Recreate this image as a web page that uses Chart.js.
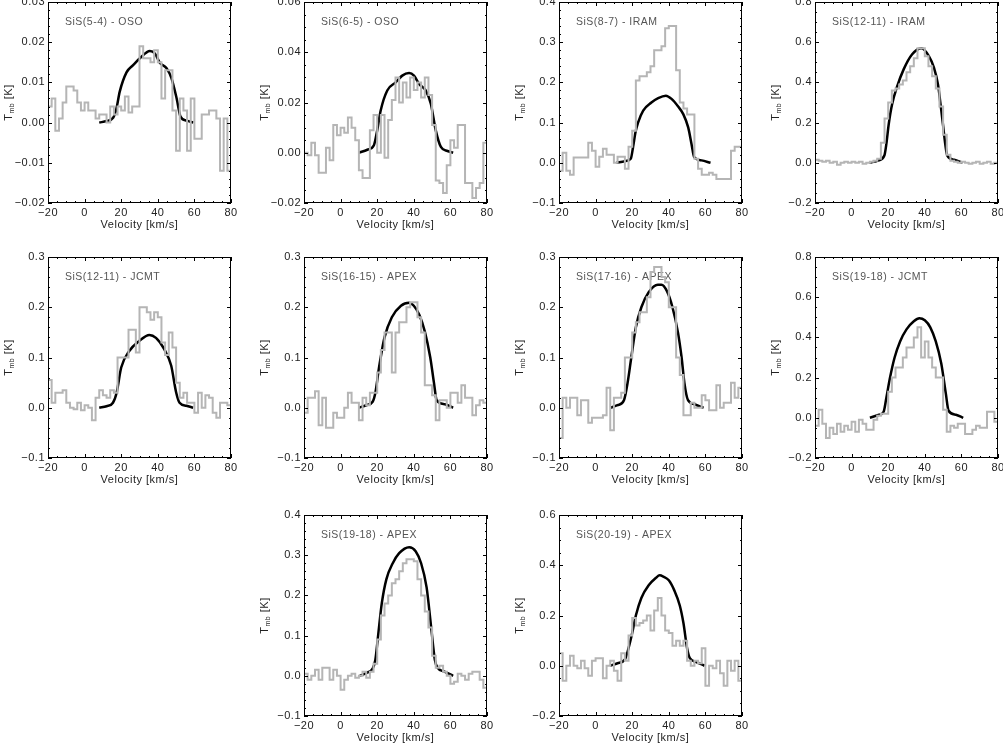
<!DOCTYPE html>
<html>
<head>
<meta charset="utf-8">
<script src="https://cdn.jsdelivr.net/npm/chart.js@4.4.1/dist/chart.umd.min.js"></script>
<style>
  body { margin: 0; background: #fff; width: 1003px; height: 746px; overflow: hidden; position: relative; }
  canvas { position: absolute; }
</style>
</head>
<body>
<script>
// channel centres (km/s), shared by all observed spectra
const velocity = [-19, -17, -15, -13, -11, -9, -7, -5, -3, -1, 1, 3, 5, 7, 9, 11, 13, 15, 17, 19,
  21, 23, 25, 27, 29, 31, 33, 35, 37, 39, 41, 43, 45, 47, 49, 51, 53, 55, 57, 59,
  61, 63, 65, 67, 69, 71, 73, 75, 77, 79];

// observed Tmb (K)
const obs54 = [0.004, 0.006, -0.002, 0.001, 0.005, 0.009, 0.009, 0.008, 0.005, 0.003, 0.005, 0.003, 0.003, 0.001, 0.002, 0.002, 0.0, 0.004, 0.002, 0.004,
  0.003, 0.0065, 0.0025, 0.004, 0.004, 0.019, 0.016, 0.016, 0.015, 0.018, 0.015, 0.006, 0.013, 0.013, 0.003, -0.007, 0.006, 0.003, -0.007, 0.006,
  -0.004, -0.004, 0.002, 0.002, 0.003, 0.003, 0.001, -0.012, 0.001, -0.012];
const obs65 = [0.0, -0.001, 0.004, -0.001, -0.008, -0.008, 0.002, -0.003, 0.011, 0.007, 0.010, 0.008, 0.014, 0.010, 0.005, -0.007, -0.010, -0.010, 0.009, 0.015,
  0.0, 0.015, -0.002, 0.013, 0.021, 0.030, 0.020, 0.028, 0.022, 0.030, 0.025, 0.028, 0.022, 0.030, 0.023, 0.011, -0.011, -0.012, -0.016, -0.005,
  0.005, 0.002, 0.011, 0.011, -0.012, -0.012, -0.018, -0.014, -0.012, 0.004];
const obs87 = [-0.02, 0.025, -0.02, -0.03, 0.013, 0.013, 0.013, 0.013, 0.05, 0.03, -0.01, 0.015, 0.035, 0.02, 0.02, 0.0, 0.015, 0.015, -0.015, 0.04,
  0.08, 0.205, 0.215, 0.215, 0.225, 0.24, 0.28, 0.28, 0.29, 0.335, 0.34, 0.34, 0.23, 0.15, 0.135, 0.12, 0.12, 0.01, -0.015, -0.03,
  -0.03, -0.025, -0.03, -0.04, -0.04, -0.04, -0.04, 0.03, 0.04, 0.04];
const obs1211iram = [0.015, 0.01, 0.005, 0.01, 0.0, 0.005, -0.01, 0.0, 0.005, 0.0, 0.005, 0.0, 0.005, -0.005, 0.0, 0.005, 0.01, 0.02, 0.1, 0.22,
  0.3, 0.36, 0.37, 0.39, 0.41, 0.45, 0.48, 0.52, 0.57, 0.57, 0.53, 0.48, 0.43, 0.37, 0.28, 0.14, 0.04, 0.01, 0.005, 0.0,
  0.005, 0.0, -0.005, 0.0, 0.005, -0.005, 0.0, 0.005, -0.005, 0.0];
const obs1211jcmt = [0.055, 0.01, 0.03, 0.03, 0.035, 0.01, 0.0, -0.003, 0.01, -0.005, 0.005, 0.0, -0.025, 0.02, 0.035, 0.025, 0.02, 0.035, 0.03, 0.1,
  0.1, 0.1, 0.155, 0.155, 0.11, 0.2, 0.2, 0.19, 0.175, 0.19, 0.18, 0.13, 0.105, 0.15, 0.12, 0.05, 0.02, 0.03, 0.01, 0.01,
  -0.01, 0.03, 0.0, 0.025, 0.02, -0.01, -0.02, 0.01, 0.01, 0.005];
const obs1615 = [-0.01, 0.02, 0.02, 0.033, -0.035, 0.02, -0.04, -0.04, -0.01, -0.02, -0.02, 0.0, 0.03, 0.01, 0.01, -0.025, 0.02, 0.005, 0.03, 0.03,
  0.07, 0.115, 0.15, 0.15, 0.07, 0.15, 0.17, 0.17, 0.2, 0.21, 0.21, 0.18, 0.15, 0.045, 0.045, 0.025, -0.025, 0.015, 0.015, 0.0,
  0.03, 0.03, 0.01, 0.045, 0.02, 0.02, -0.015, 0.005, 0.015, 0.01];
const obs1716 = [-0.06, 0.02, 0.0, 0.02, 0.02, -0.015, 0.015, 0.015, -0.03, -0.02, -0.02, -0.02, -0.015, 0.04, -0.045, 0.02, 0.02, 0.03, 0.1, 0.1,
  0.15, 0.17, 0.19, 0.19, 0.22, 0.27, 0.28, 0.28, 0.26, 0.25, 0.2, 0.2, 0.1, 0.065, -0.015, -0.015, 0.01, 0.0, 0.0, 0.025,
  0.015, -0.005, -0.005, 0.045, 0.0, 0.01, 0.01, 0.05, 0.02, 0.04];
const obs1918jcmt = [-0.04, 0.04, -0.03, -0.1, -0.05, -0.08, -0.03, -0.07, -0.04, -0.06, -0.02, -0.07, -0.01, -0.03, -0.06, -0.06, -0.01, 0.01, 0.02, 0.02,
  0.13, 0.2, 0.25, 0.25, 0.3, 0.35, 0.35, 0.4, 0.45, 0.3, 0.38, 0.3, 0.25, 0.2, 0.2, 0.04, -0.07, -0.04, -0.05, -0.03,
  -0.03, -0.08, -0.08, -0.06, -0.04, -0.05, -0.05, 0.03, 0.03, -0.02];
const obs1918apex = [0.005, -0.01, 0.0, 0.015, -0.01, 0.02, 0.02, -0.01, 0.015, 0.0, -0.035, -0.01, 0.0, 0.005, -0.005, 0.0, 0.01, -0.005, 0.01, 0.03,
  0.09, 0.15, 0.18, 0.2, 0.23, 0.24, 0.26, 0.28, 0.29, 0.29, 0.285, 0.24, 0.2, 0.16, 0.12, 0.05, 0.02, 0.025, 0.01, 0.0,
  -0.02, -0.015, 0.005, 0.0, -0.01, 0.005, 0.01, 0.01, -0.01, -0.03];
const obs2019 = [0.05, -0.06, 0.0, 0.04, 0.0, -0.01, 0.02, -0.01, -0.04, 0.02, 0.03, 0.03, -0.05, 0.0, 0.02, -0.02, -0.06, 0.05, 0.02, 0.12,
  0.19, 0.16, 0.17, 0.18, 0.2, 0.14, 0.22, 0.27, 0.2, 0.14, 0.13, 0.08, 0.1, 0.08, 0.1, 0.02, 0.0, 0.02, 0.01, 0.07,
  -0.08, 0.0, -0.01, 0.02, -0.03, -0.08, 0.02, -0.02, 0.02, -0.06];

// model line profiles: velocity (km/s) and Tmb (K)
const model54V = [8, 12, 15.6, 17.4, 19.2, 22.9, 26.5, 30.2, 35.7, 38.4, 41.1, 44.8, 47.5, 50.3, 52.4, 55.7, 59.4];
const model54T = [0, 0.0004, 0.0012, 0.0035, 0.0077, 0.0125, 0.0143, 0.016, 0.0178, 0.0172, 0.0149, 0.0135, 0.011, 0.006, 0.0015, 0.0005, 0];
const model65V = [10, 14.6, 18.2, 20, 21.9, 25.5, 30.1, 33.7, 37.4, 40.1, 42.9, 46.5, 49.3, 52, 54.8, 58.4, 61.5];
const model65T = [0, 0.0012, 0.003, 0.0089, 0.0168, 0.0248, 0.028, 0.0307, 0.0317, 0.0307, 0.0274, 0.0248, 0.0195, 0.0089, 0.0023, 0.0007, 0];
const model87V = [11.4, 16, 19.2, 20.5, 21.8, 23.2, 26, 30.5, 34.2, 38.4, 41.5, 45.1, 47.9, 50.6, 52.4, 53.9, 57.9, 62.8];
const model87T = [0, 0.004, 0.01, 0.04, 0.076, 0.1, 0.13, 0.15, 0.161, 0.167, 0.159, 0.14, 0.121, 0.088, 0.047, 0.014, 0.006, 0];
const model1211iramV = [9.7, 14.8, 17.9, 19, 20.3, 22.1, 24.9, 28.5, 33.1, 38.2, 42.3, 45, 47.2, 48.7, 50.1, 51.4, 52.3, 56, 60.6];
const model1211iramT = [0, 0.012, 0.036, 0.094, 0.193, 0.29, 0.38, 0.466, 0.54, 0.57, 0.53, 0.474, 0.39, 0.284, 0.177, 0.078, 0.036, 0.015, 0];
const model1211jcmtV = [8, 12, 15.5, 17.5, 20, 24.4, 29.9, 35.4, 39, 43.6, 47.3, 50, 51.9, 55.6, 59.3];
const model1211jcmtT = [0, 0.003, 0.01, 0.03, 0.08, 0.113, 0.133, 0.145, 0.139, 0.116, 0.084, 0.031, 0.01, 0.004, 0];
const model1615V = [10, 14, 17.5, 19, 21, 24, 28, 33, 37.5, 40, 43, 46, 49, 51, 52.5, 57, 61.5];
const model1615T = [0, 0.005, 0.012, 0.03, 0.08, 0.14, 0.18, 0.203, 0.209, 0.203, 0.185, 0.152, 0.1, 0.05, 0.015, 0.007, 0];
const model1716V = [8, 12, 15.5, 17.5, 19.5, 22, 25, 29, 34, 36, 39, 42, 45, 47, 48.5, 50.5, 54, 59];
const model1716T = [0, 0.005, 0.015, 0.05, 0.1, 0.16, 0.2, 0.23, 0.245, 0.245, 0.232, 0.2, 0.15, 0.1, 0.05, 0.015, 0.007, 0];
const model1918jcmtV = [10, 15, 17.5, 19, 21, 23.5, 26.5, 30, 34, 37, 40, 43, 46, 49, 51.5, 53, 57, 61];
const model1918jcmtT = [0, 0.015, 0.03, 0.1, 0.2, 0.3, 0.38, 0.44, 0.48, 0.495, 0.485, 0.45, 0.38, 0.27, 0.12, 0.035, 0.015, 0];
const model1918apexV = [10.5, 14.5, 17.5, 19, 20.5, 22.5, 25, 28.5, 32, 37.5, 41, 44, 47, 49.5, 51.5, 53, 57, 61.5];
const model1918apexT = [0, 0.008, 0.018, 0.04, 0.1, 0.18, 0.24, 0.28, 0.305, 0.32, 0.31, 0.28, 0.22, 0.12, 0.04, 0.02, 0.01, 0];
const model2019V = [8, 12, 16, 18, 20, 22, 25, 29, 33, 35, 37, 40, 43, 46, 48, 50, 51.5, 55, 59.5];
const model2019T = [0, 0.01, 0.025, 0.07, 0.13, 0.2, 0.27, 0.32, 0.35, 0.36, 0.355, 0.34, 0.3, 0.24, 0.17, 0.07, 0.03, 0.015, 0];

// panel labels and y ranges [min, max, step]
const labels = ['SiS(5-4) - OSO', 'SiS(6-5) - OSO', 'SiS(8-7) - IRAM', 'SiS(12-11) - IRAM',
  'SiS(12-11) - JCMT', 'SiS(16-15) - APEX', 'SiS(17-16) - APEX', 'SiS(19-18) - JCMT',
  'SiS(19-18) - APEX', 'SiS(20-19) - APEX'];
const yRanges = [[-0.02, 0.03, 0.01], [-0.02, 0.06, 0.02], [-0.1, 0.4, 0.1], [-0.2, 0.8, 0.2],
  [-0.1, 0.3, 0.1], [-0.1, 0.3, 0.1], [-0.1, 0.3, 0.1], [-0.2, 0.8, 0.2],
  [-0.1, 0.4, 0.1], [-0.2, 0.6, 0.2]];
const xTicks = [-20, 0, 20, 40, 60, 80];

const observed = [obs54, obs65, obs87, obs1211iram, obs1211jcmt, obs1615, obs1716, obs1918jcmt, obs1918apex, obs2019];
const modelsV = [model54V, model65V, model87V, model1211iramV, model1211jcmtV, model1615V, model1716V, model1918jcmtV, model1918apexV, model2019V];
const modelsT = [model54T, model65T, model87T, model1211iramT, model1211jcmtT, model1615T, model1716T, model1918jcmtT, model1918apexT, model2019T];

// layout of the plot boxes on the page
const colLeft = [48, 304, 559, 815];
const rowTop = [2, 257, 515];
const slots = [[0, 0], [0, 1], [0, 2], [0, 3], [1, 0], [1, 1], [1, 2], [1, 3], [2, 1], [2, 2]];
const plotW = 183, plotH = 201;
const padL = 50, padT = 10, padR = 10, padB = 32;

const FONT = '"Liberation Sans", Arial, sans-serif';
const minus = s => s.replace('-', '\u2212');

// IDL-like box: frame, inward major/minor ticks on all sides, panel label, T_mb title
const idlFrame = {
  id: 'idlFrame',
  beforeDraw(chart) {
    // the original lettering is a little wider spaced than Liberation Sans
    chart.ctx.letterSpacing = '0.5px';
  },
  beforeDatasetsDraw(chart, args, opts) {
    const {ctx, chartArea: a} = chart;
    ctx.save();
    ctx.font = '10.5px ' + FONT;
    ctx.fillStyle = '#555';
    ctx.textBaseline = 'middle';
    ctx.fillText(opts.label, a.left + 17, a.top + 20);
    ctx.restore();
  },
  afterDatasetsDraw(chart, args, opts) {
    const {ctx, chartArea: a, scales: {x, y}} = chart;
    ctx.save();
    ctx.strokeStyle = '#000';
    ctx.lineWidth = 1;
    ctx.strokeRect(a.left + 0.5, a.top + 0.5, a.right - a.left - 1, a.bottom - a.top - 1);
    const seg = (x1, y1, x2, y2) => { ctx.beginPath(); ctx.moveTo(x1, y1); ctx.lineTo(x2, y2); ctx.stroke(); };
    const marks = (scale, n) => {
      const vals = scale.ticks.map(t => t.value);
      const out = vals.map(v => [v, 4]);
      for (let i = 0; i < vals.length - 1; i++) {
        for (let k = 1; k < n; k++) out.push([vals[i] + k * (vals[i + 1] - vals[i]) / n, 2]);
      }
      return out;
    };
    marks(x, 4).forEach(([v, len]) => {
      const p = Math.round(x.getPixelForValue(v)) + 0.5;
      seg(p, a.bottom, p, a.bottom - len);
      seg(p, a.top, p, a.top + len);
    });
    marks(y, opts.minorY).forEach(([v, len]) => {
      const p = Math.round(y.getPixelForValue(v)) + 0.5;
      seg(a.left, p, a.left + len, p);
      seg(a.right, p, a.right - len, p);
    });
    ctx.restore();
  },
  afterDraw(chart) {
    const {ctx, chartArea: a} = chart;
    ctx.save();
    ctx.translate(a.left - 39, (a.top + a.bottom) / 2);
    ctx.rotate(-Math.PI / 2);
    ctx.fillStyle = '#222';
    ctx.textBaseline = 'middle';
    const big = '11px ' + FONT, small = '7px ' + FONT;
    ctx.font = big; const wT = ctx.measureText('T').width, wK = ctx.measureText(' [K]').width;
    ctx.font = small; const wS = ctx.measureText('mb').width;
    let px = -(wT + wS + wK) / 2;
    ctx.font = big; ctx.fillText('T', px, 0); px += wT;
    ctx.font = small; ctx.fillText('mb', px, 3); px += wS;
    ctx.font = big; ctx.fillText(' [K]', px, 0);
    ctx.restore();
  }
};

observed.forEach((obs, i) => {
  const [row, col] = slots[i];
  const [yMin, yMax, yStep] = yRanges[i];
  const decimals = yStep < 0.1 ? 2 : 1;
  const canvas = document.createElement('canvas');
  canvas.width = padL + plotW + padR;
  canvas.height = padT + plotH + padB;
  canvas.style.left = (colLeft[col] - padL) + 'px';
  canvas.style.top = (rowTop[row] - padT) + 'px';
  document.body.appendChild(canvas);

  // step spectrum, extended to the axis edges with the end channels
  const obsPoints = [{x: -20, y: obs[0]}]
    .concat(velocity.map((v, k) => ({x: v, y: obs[k]})))
    .concat([{x: 80, y: obs[obs.length - 1]}]);
  const modelPoints = modelsV[i].map((v, k) => ({x: v, y: modelsT[i][k]}));

  new Chart(canvas, {
    type: 'line',
    data: {
      datasets: [
        { data: obsPoints, stepped: 'middle', borderColor: '#b5b5b5', borderWidth: 2, pointRadius: 0 },
        { data: modelPoints, borderColor: '#000', borderWidth: 2.5, pointRadius: 0, cubicInterpolationMode: 'monotone' }
      ]
    },
    options: {
      responsive: false,
      animation: false,
      layout: { padding: { left: 0, top: padT, right: padR, bottom: 0 } },
      plugins: {
        legend: { display: false },
        tooltip: { enabled: false },
        idlFrame: { label: labels[i], minorY: String(yStep).includes('2') ? 4 : 5 }
      },
      scales: {
        x: {
          type: 'linear', min: -20, max: 80,
          afterBuildTicks: s => { s.ticks = xTicks.map(v => ({value: v})); },
          afterFit: s => { s.height = padB; },
          grid: { display: false, drawTicks: false },
          border: { display: false },
          ticks: { padding: 3, maxRotation: 0, color: '#222', font: { family: FONT, size: 11 }, callback: v => minus(String(v)) },
          title: { display: true, text: 'Velocity [km/s]', color: '#222', font: { family: FONT, size: 11 }, padding: { top: 0, bottom: 3 } }
        },
        y: {
          type: 'linear', min: yMin, max: yMax,
          afterFit: s => { s.width = padL; },
          grid: { display: false, drawTicks: false },
          border: { display: false },
          ticks: {
            stepSize: yStep, padding: 3, color: '#222', font: { family: FONT, size: 11 },
            callback: v => minus((Math.abs(v) < yStep / 1000 ? 0 : v).toFixed(decimals))
          }
        }
      }
    },
    plugins: [idlFrame]
  });
});
</script>
</body>
</html>
